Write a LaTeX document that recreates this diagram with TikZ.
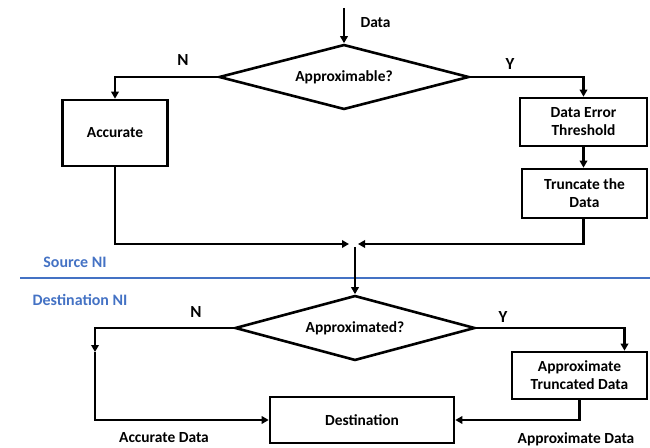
\documentclass[tikz,border=0pt]{standalone}
\usepackage{fontspec}
\setmainfont{Carlito}
\usetikzlibrary{shapes.geometric,arrows.meta}
\definecolor{niblue}{HTML}{4472C4}
\begin{document}
\begin{tikzpicture}[x=1bp,y=-1bp,
  every node/.style={font=\fontsize{15.5}{18}\selectfont\bfseries},
  box/.style={draw,line width=2.6bp,inner sep=0pt,align=center},
  dia/.style={draw,diamond,line width=2.6bp,inner sep=0pt,aspect=3.8},
  conn/.style={line width=2.6bp},
  arr/.style={conn,-{Triangle[length=7bp,width=7.5bp]}},
  lbl/.style={font=\fontsize{17}{19}\selectfont\bfseries},
  ni/.style={text=niblue,font=\fontsize{16}{18}\selectfont\bfseries}]
\useasboundingbox (0,0) rectangle (650,448);
% top part
\coordinate (din) at (344,8);
\node[dia,minimum width=250bp,minimum height=65bp] (d1) at (344,77) {Approximable?};
\node[anchor=west] (datal) at (357,23) {Data};
\node[box,minimum width=105bp,minimum height=66bp] (acc) at (115,133) {Accurate};
\node[box,minimum width=127bp,minimum height=48bp] (det) at (583.5,122) {Data Error\\Threshold};
\node[box,minimum width=125bp,minimum height=49bp] (trunc) at (584.5,193.5) {Truncate the\\Data};
\node[lbl] (n1) at (183,60) {N};
\node[lbl] (y1) at (510,64) {Y};
\coordinate (j) at (352,244);
\draw[arr] (din) -- (d1.north);
\draw[arr] (d1.west) -| (acc.north);
\draw[arr] (d1.east) -| (det.north);
\draw[arr] (det.south) -- (det.south |- trunc.north);
\draw[arr] (acc.south) |- ([xshift=-3bp]j);
\draw[arr] (trunc.south -| det.south) |- ([xshift=6bp]j);
% divider
\node[ni] (src) at (75,262) {Source NI};
\node[ni] (dst) at (80,300) {Destination NI};
\coordinate (ls) at (20,278);
\coordinate (le) at (650,278);
\draw[niblue,line width=2.4bp] (ls) -- (le);
% bottom part
\node[dia,minimum width=240bp,minimum height=65bp] (d2) at (355,328) {Approximated?};
\coordinate (jt) at (355,247);
\draw[arr] (jt) -- (d2.north);
\node[lbl] (n2) at (196,312) {N};
\node[lbl] (y2) at (503,317) {Y};
\node[box,minimum width=135bp,minimum height=47bp] (atd) at (579.5,375.5) {Approximate\\Truncated Data};
\node[box,minimum width=184bp,minimum height=46bp] (dest) at (362,420) {Destination};
\coordinate (lc) at (95,352);
\draw[arr] (d2.west) -| (lc);
\draw[arr] (lc) |- (dest.west);
\draw[arr] (d2.east) -| ([xshift=45bp]atd.north);
\draw[arr] (atd.south) |- (dest.east);
\node (accd) at (164,438) {Accurate Data};
\node (apxd) at (576,439) {Approximate Data};
\end{tikzpicture}
\end{document}
